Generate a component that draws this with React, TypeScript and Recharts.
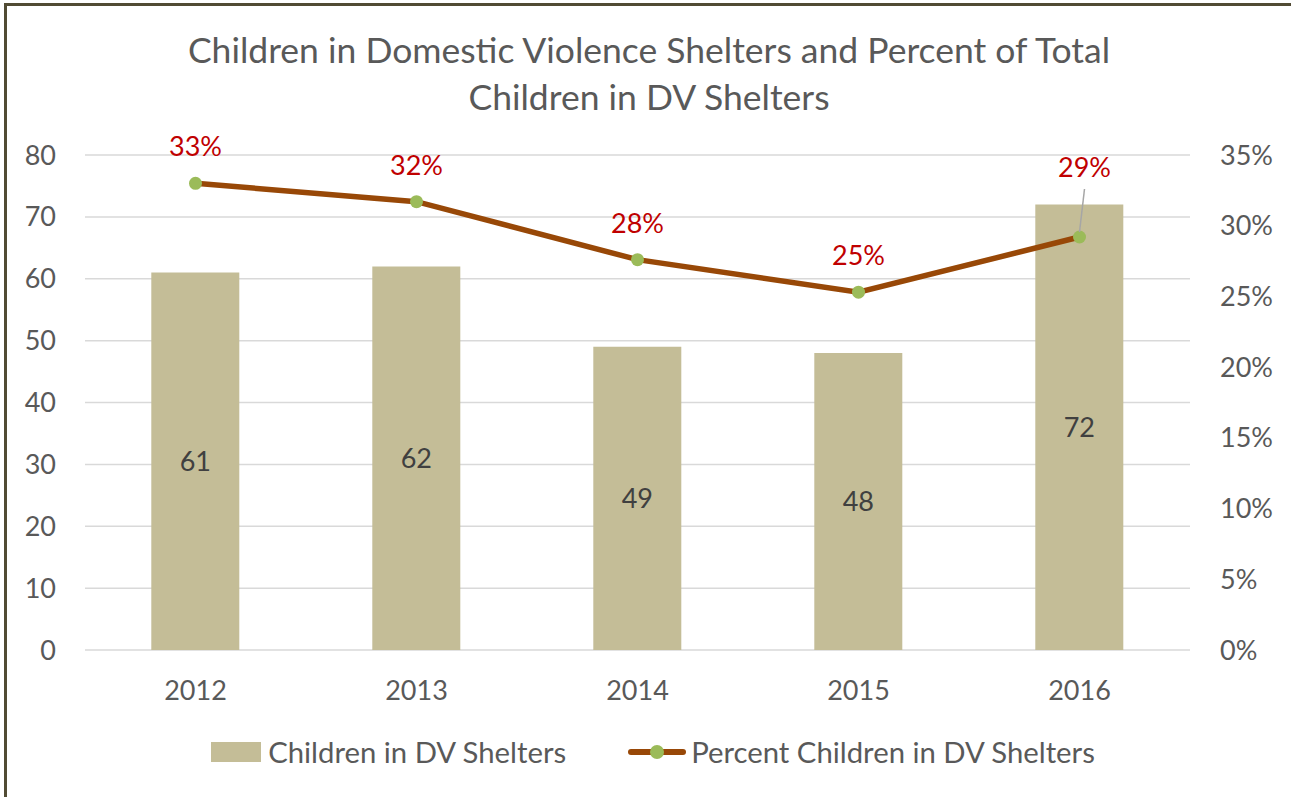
import React from "react";
import {
  ComposedChart,
  Bar,
  Line,
  XAxis,
  YAxis,
  CartesianGrid,
  LabelList,
} from "recharts";

const years = ["2012", "2013", "2014", "2015", "2016"];
const children = [61, 62, 49, 48, 72];
const percent = [0.33, 0.317, 0.276, 0.253, 0.292];
const countTicks = [0, 10, 20, 30, 40, 50, 60, 70, 80];
const percentTicks = [0, 0.05, 0.1, 0.15, 0.2, 0.25, 0.3, 0.35];

const data = years.map((year, i) => ({
  year,
  children: children[i],
  percent: percent[i],
}));

const FONT = "Lato, 'Open Sans', sans-serif";
const GREY = "#595959";
const BAR = "#c4bd97";
const LINE = "#984807";
const DOT = "#9bbb59";
const LABEL_RED = "#c00000";

const fmtPct = (v: number) => `${Math.round(v * 100)}%`;

// the last point's label sits higher, with a leader line down to the dot
const PercentLabel = (props: any) => {
  const { x, y, value, index } = props;
  const last = index === data.length - 1;
  const raise = last ? 60 : 27;
  const lx = last ? x + 5 : x;
  return (
    <g>
      {last && (
        <line x1={x + 5} y1={y - 48} x2={x} y2={y - 5} stroke="#a6a6a6" strokeWidth={1.5} />
      )}
      <text
        x={lx}
        y={y - raise}
        textAnchor="middle"
        fill={LABEL_RED}
        fontSize={27}
        fontFamily={FONT}
      >
        {fmtPct(value)}
      </text>
    </g>
  );
};

export default function App() {
  return (
    <div
      style={{
        position: "absolute",
        left: 0,
        top: 0,
        width: 1291,
        height: 797,
        background: "#fff",
        overflow: "hidden",
        fontFamily: FONT,
      }}
    >
      <div
        style={{
          position: "absolute",
          left: 4,
          top: 3,
          width: 1400,
          height: 900,
          borderTop: "3px solid #514b34",
          borderLeft: "3px solid #514b34",
        }}
      />
      <div
        style={{
          position: "absolute",
          left: 0,
          top: 26,
          width: 1298,
          textAlign: "center",
          color: GREY,
          fontSize: 35.5,
          lineHeight: "47px",
        }}
      >
        Children in Domestic Violence Shelters and Percent of Total
        <br />
        Children in DV Shelters
      </div>

      <div style={{ position: "absolute", left: 0, top: 0 }}>
        <ComposedChart
          width={1291}
          height={797}
          data={data}
          margin={{ top: 155, right: 0, bottom: 87, left: 0 }}
          barCategoryGap="30%"
        >
          <CartesianGrid
            yAxisId="left"
            vertical={false}
            stroke="#d9d9d9"
            strokeWidth={1.5}
          />
          <XAxis
            dataKey="year"
            axisLine={false}
            tickLine={false}
            tickSize={0}
            tickMargin={31}
            height={60}
            tick={{ fill: GREY, fontSize: 27, fontFamily: FONT }}
          />
          <YAxis
            yAxisId="left"
            domain={[0, 80]}
            ticks={countTicks}
            width={85}
            axisLine={false}
            tickLine={false}
            tickSize={0}
            tickMargin={29}
            tick={{ fill: GREY, fontSize: 27, fontFamily: FONT }}
          />
          <YAxis
            yAxisId="right"
            orientation="right"
            domain={[0, 0.35]}
            ticks={percentTicks}
            tickFormatter={fmtPct}
            width={101}
            axisLine={false}
            tickLine={false}
            tickSize={0}
            tickMargin={30}
            tick={{ fill: GREY, fontSize: 27, fontFamily: FONT }}
          />
          <Bar
            yAxisId="left"
            dataKey="children"
            fill={BAR}
            isAnimationActive={false}
          >
            <LabelList
              dataKey="children"
              position="center"
              fill="#404040"
              fontSize={27}
              fontFamily={FONT}
            />
          </Bar>
          <Line
            yAxisId="right"
            dataKey="percent"
            type="linear"
            stroke={LINE}
            strokeWidth={5.5}
            dot={{ r: 6.5, fill: DOT, stroke: "none" }}
            activeDot={false}
            isAnimationActive={false}
          >
            <LabelList dataKey="percent" content={PercentLabel} />
          </Line>
        </ComposedChart>
      </div>

      <div
        style={{
          position: "absolute",
          left: 0,
          top: 734,
          width: 1306,
          display: "flex",
          justifyContent: "center",
          alignItems: "center",
          color: GREY,
          fontSize: 29.3,
          lineHeight: "36px",
        }}
      >
        <span
          style={{ width: 50, height: 20, background: BAR, marginRight: 7, display: "inline-block" }}
        />
        <span style={{ marginRight: 62 }}>Children in DV Shelters</span>
        <svg width={58} height={22} style={{ marginRight: 5 }}>
          <line x1={3} y1={11} x2={55} y2={11} stroke={LINE} strokeWidth={6} strokeLinecap="round" />
          <circle cx={29} cy={11} r={7} fill={DOT} />
        </svg>
        <span>Percent Children in DV Shelters</span>
      </div>
    </div>
  );
}
